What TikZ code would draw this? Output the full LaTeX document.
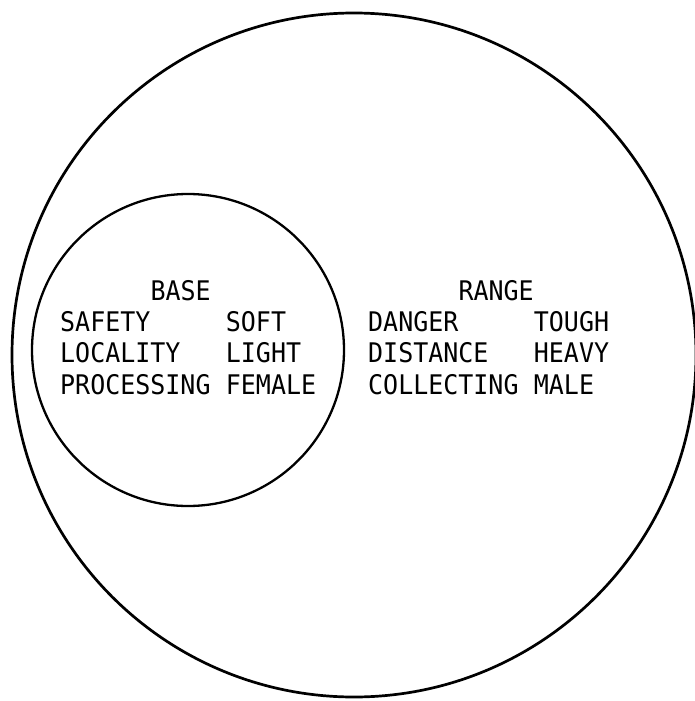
\documentclass[tikz,border=0pt]{standalone}
\usepackage{fontspec}
\newfontfamily\plotfont[FakeStretch=0.925]{DejaVu Sans Mono}
\begin{document}
\begin{tikzpicture}[x=1pt,y=-1pt,
  word/.style={anchor=base west,inner sep=0pt,font=\plotfont\fontsize{27}{31}\selectfont},
  ring/.style={draw=black,line width=2.7pt},
  innerring/.style={draw=black,line width=2.3pt}]
\useasboundingbox (0,0) rectangle (694,701);
% circles
\node[ring,circle,minimum size=684pt,inner sep=0pt] (outer) at (354,355) {};
\node[innerring,circle,minimum size=312pt,inner sep=0pt] (inner) at (188,350) {};
% base words
\node[word] (base) at (150.4,300) {BASE};
\node[word] (safety) at (60,331.3) {SAFETY};
\node[word] (soft) at (225.7,331.3) {SOFT};
\node[word] (locality) at (60,362.6) {LOCALITY};
\node[word] (light) at (225.7,362.6) {LIGHT};
\node[word] (processing) at (60,394) {PROCESSING};
\node[word] (female) at (225.7,394) {FEMALE};
% range words
\node[word] (range) at (458.4,300) {RANGE};
\node[word] (danger) at (368,331.3) {DANGER};
\node[word] (tough) at (533.7,331.3) {TOUGH};
\node[word] (distance) at (368,362.6) {DISTANCE};
\node[word] (heavy) at (533.7,362.6) {HEAVY};
\node[word] (collecting) at (368,394) {COLLECTING};
\node[word] (male) at (533.7,394) {MALE};
\end{tikzpicture}
\end{document}
